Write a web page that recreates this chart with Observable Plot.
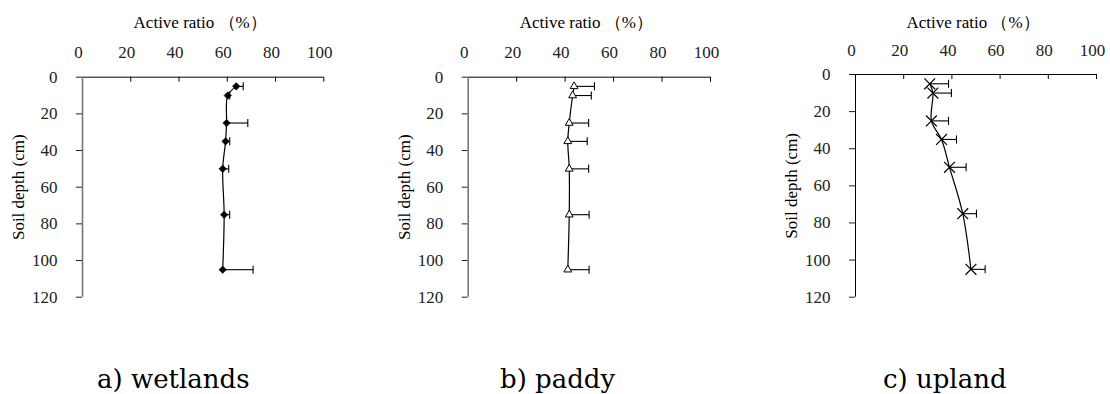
<!DOCTYPE html>
<html><head><meta charset="utf-8">
<script src="https://cdn.jsdelivr.net/npm/d3@7"></script>
<script src="https://cdn.jsdelivr.net/npm/@observablehq/plot@0.6"></script>
<style>
body{margin:0;background:#fff;}
#wrap{position:relative;width:1110px;height:394px;overflow:hidden;background:#fff;}
.panel{position:absolute;top:0;}
.cap{position:absolute;font-family:"DejaVu Serif";font-size:26px;color:#000;white-space:nowrap;line-height:1;}
</style></head><body><div id="wrap"></div>
<script>
// ---- data ----
const depths = [5, 10, 25, 35, 50, 75, 105];
const wetlands    = [63.7, 60.2, 59.7, 59.3, 58.1, 58.7, 58.1];
const wetlandsErr = [2.9, 0.8, 8.8, 1.7, 2.5, 2.3, 12.6];
const paddy       = [43.7, 43.1, 41.7, 41.1, 41.7, 41.7, 41.1];
const paddyErr    = [8.4, 7.7, 8.0, 8.0, 8.0, 8.2, 8.8];
const upland      = [30.8, 32.1, 31.5, 35.7, 39.0, 44.5, 47.9];
const uplandErr   = [7.8, 7.7, 7.1, 6.2, 6.9, 5.7, 5.9];
const xTicks = [0, 20, 40, 60, 80, 100];
const yTicks = [0, 20, 40, 60, 80, 100, 120];
const xTitle = "Active ratio （%）";
const yTitle = "Soil depth (cm)";
const captions = ["a) wetlands", "b) paddy", "c) upland"];

// ---- layout / style ----
const FONT = "Liberation Serif, DejaVu Serif, serif";
const layout = [
  {left: 0,   ml: 82,    mr: 46.7, mt: 76.7, mb: 23.3, symbol: "diamond2", r: 3.4, fill: "#000", sw: 0.5, yAxisColor: "#777", yAxisW: 1.6, capLeft: 97},
  {left: 370, ml: 97.7,  mr: 30,   mt: 76.7, mb: 23.3, symbol: "triangle", r: 2.9, fill: "#fff", sw: 1,   yAxisColor: "#777", yAxisW: 1.6, capLeft: 500},
  {left: 740, ml: 115,   mr: 14,   mt: 74,   mb: 23.3, symbol: "times",    r: 5.0, fill: "none", sw: 1.2, yAxisColor: "#000", yAxisW: 1,   capLeft: 883}
];
const series = [[wetlands, wetlandsErr], [paddy, paddyErr], [upland, uplandErr]];

const W = 370, H = 320;
const wrap = document.getElementById("wrap");

series.forEach(([vals, errs], i) => {
  const P = layout[i];
  const plotH = H - P.mt - P.mb;
  const uPerPx = 120 / plotH;
  const cap = 4 * uPerPx;
  const xTickLen = 5 * uPerPx;
  const rows = depths.map((d, j) => ({depth: d, v: vals[j], hi: vals[j] + errs[j]}));
  const chart = Plot.plot({
    width: W, height: H,
    marginLeft: P.ml, marginRight: P.mr, marginTop: P.mt, marginBottom: P.mb,
    x: {domain: [0, 100]},
    y: {domain: [0, 120], reverse: true},
    style: {fontSize: "17px", color: "#222", background: "white"},
    marks: [
      Plot.axisX(xTicks, {anchor: "top", tickSize: 0, tickPadding: 19, dx: -4, fontSize: 17, fontFamily: FONT, label: null}),
      Plot.axisY(yTicks, {anchor: "left", tickSize: 6, tickPadding: 19, fontSize: 17, fontFamily: FONT, label: null}),
      Plot.ruleX(xTicks.slice(1), {x: d => d, y1: 0, y2: xTickLen, stroke: "#000"}),
      Plot.ruleY([0], {x1: 0, x2: 100, stroke: "#000"}),
      Plot.ruleX([0], {y1: 0, y2: 120, stroke: P.yAxisColor, strokeWidth: P.yAxisW}),
      Plot.line(rows, {x: "v", y: "depth", curve: "catmull-rom", stroke: "#000", strokeWidth: 1.2}),
      Plot.link(rows, {x1: "v", x2: "hi", y1: "depth", y2: "depth", stroke: "#000", strokeWidth: 1.1}),
      Plot.link(rows, {x1: "hi", x2: "hi", y1: d => d.depth - cap, y2: d => d.depth + cap, stroke: "#000", strokeWidth: 1.1}),
      Plot.dot(rows, {x: "v", y: "depth", symbol: P.symbol, r: P.r, fill: P.fill, stroke: "#000", strokeWidth: P.sw}),
      Plot.text([xTitle], {frameAnchor: "top", textAnchor: "middle", lineAnchor: "middle", dy: -P.mt + 21.7, dx: -3, fontSize: 17, fontFamily: FONT, fill: "#000"}),
      Plot.text([yTitle], {frameAnchor: "left", textAnchor: "middle", lineAnchor: "middle", rotate: -90, dx: -64, fontSize: 17, fontFamily: FONT, fill: "#000"})
    ]
  });
  chart.classList.add("panel");
  chart.style.left = P.left + "px";
  wrap.appendChild(chart);

  const c = document.createElement("div");
  c.className = "cap";
  c.textContent = captions[i];
  c.style.left = P.capLeft + "px";
  c.style.top = "366px";
  wrap.appendChild(c);
});
</script>
</body></html>
